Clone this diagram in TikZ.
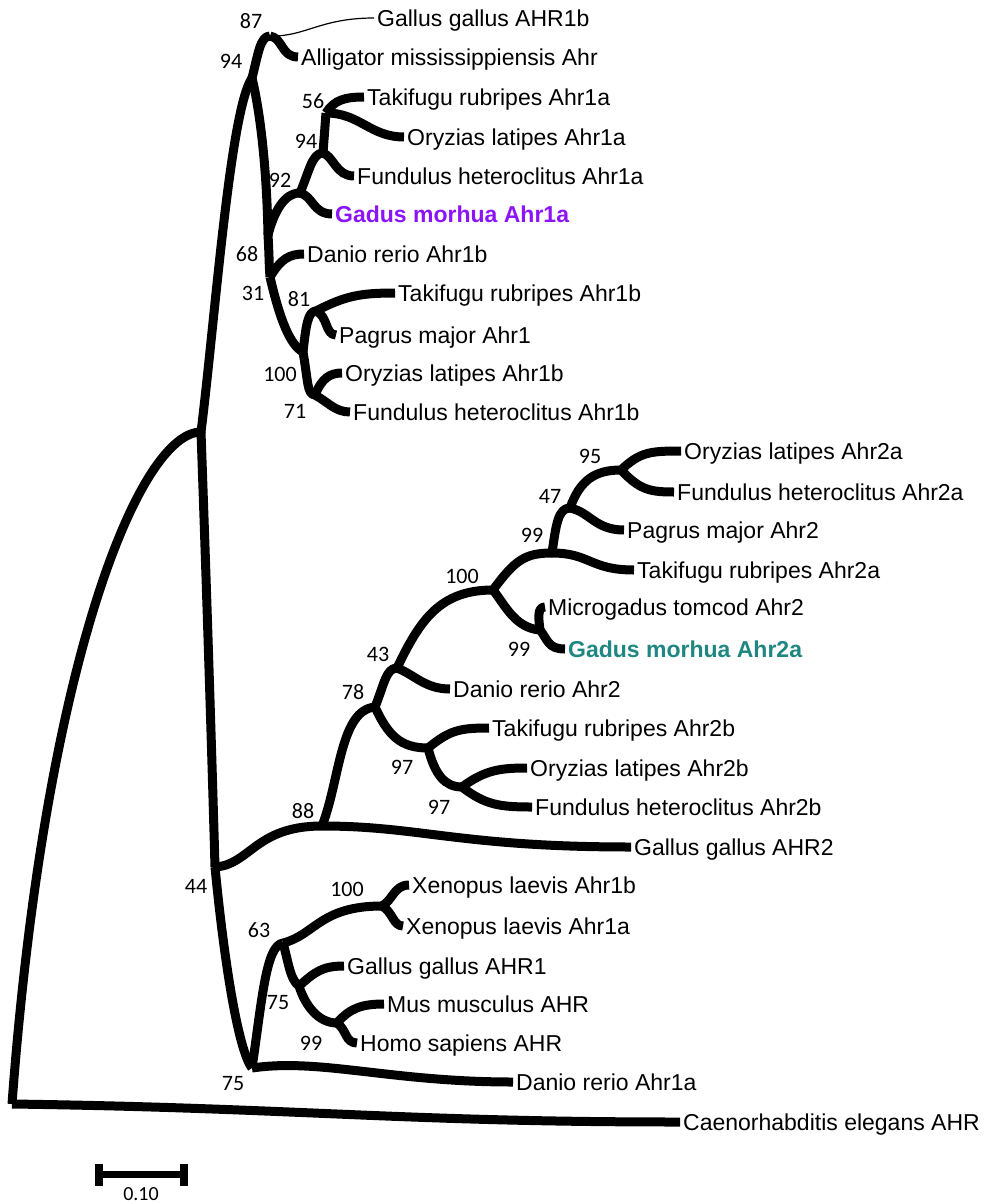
\documentclass[tikz,border=0pt]{standalone}
\usepackage{fontspec}
\newfontfamily\labfont{Liberation Sans}
\newfontfamily\numfont{Carlito}
\definecolor{gmpurple}{RGB}{140,20,250}
\definecolor{gmteal}{RGB}{30,135,130}
\tikzset{
  branch/.style={line width=9pt, line cap=butt, line join=round},
  thinbranch/.style={line width=1.2pt},
  leaf/.style={anchor=west, inner xsep=3pt, inner ysep=0pt, text height=16.5pt, text depth=0pt, font=\labfont\fontsize{23}{26}\selectfont},
  boot/.style={inner sep=0pt, text height=14pt, text depth=0pt, font=\numfont\fontsize{22}{25}\selectfont},
}
\begin{document}
\begin{tikzpicture}[x=1pt,y=-1pt]
\useasboundingbox (0,0) rectangle (984,1204);
% internal nodes
\coordinate (root) at (12,1104);
\coordinate (nA) at (201,432);
\coordinate (n94a) at (252,78);
\coordinate (n87) at (270,36);
\coordinate (n68) at (268,235);
\coordinate (n31) at (270,277);
\coordinate (n92) at (300,193);
\coordinate (n94b) at (323,153);
\coordinate (n56) at (326,113);
\coordinate (n100a) at (303,352);
\coordinate (n81) at (316,311);
\coordinate (n71) at (315,395);
\coordinate (n44) at (215,867);
\coordinate (n88) at (322,826);
\coordinate (n78) at (375,707);
\coordinate (n43) at (397,668);
\coordinate (n100b) at (493,590);
\coordinate (n99a) at (552,553);
\coordinate (n47) at (570,508);
\coordinate (n95) at (621,470);
\coordinate (n99b) at (540,630);
\coordinate (n97a) at (428,748);
\coordinate (n97b) at (462,787);
\coordinate (n75a) at (252,1068);
\coordinate (n63) at (283,943);
\coordinate (n100c) at (382,906);
\coordinate (n75b) at (299,986);
\coordinate (n99c) at (337,1023);
% leaves
\node[leaf] (gg1b) at (374,18) {Gallus gallus AHR1b};
\node[leaf] (alli) at (298,57) {Alligator mississippiensis Ahr};
\node[leaf] (tr1a) at (364,97) {Takifugu rubripes Ahr1a};
\node[leaf] (ol1a) at (404,137) {Oryzias latipes Ahr1a};
\node[leaf] (fh1a) at (354,176) {Fundulus heteroclitus Ahr1a};
\node[leaf, text=gmpurple, font=\labfont\bfseries\fontsize{23}{26}\selectfont] (gm1a) at (332,214) {Gadus morhua Ahr1a};
\node[leaf] (dr1b) at (304,254) {Danio rerio Ahr1b};
\node[leaf] (tr1b) at (395,293) {Takifugu rubripes Ahr1b};
\node[leaf] (pm1) at (336,335) {Pagrus major Ahr1};
\node[leaf] (ol1b) at (342,373) {Oryzias latipes Ahr1b};
\node[leaf] (fh1b) at (350,412) {Fundulus heteroclitus Ahr1b};
\node[leaf] (ol2a) at (681,451) {Oryzias latipes Ahr2a};
\node[leaf] (fh2a) at (674,492) {Fundulus heteroclitus Ahr2a};
\node[leaf] (pm2) at (624,530) {Pagrus major Ahr2};
\node[leaf] (tr2a) at (634,570) {Takifugu rubripes Ahr2a};
\node[leaf] (mt2) at (545,607) {Microgadus tomcod Ahr2};
\node[leaf, text=gmteal, font=\labfont\bfseries\fontsize{23}{26}\selectfont] (gm2a) at (565,649) {Gadus morhua Ahr2a};
\node[leaf] (dr2) at (450,689) {Danio rerio Ahr2};
\node[leaf] (tr2b) at (489,728) {Takifugu rubripes Ahr2b};
\node[leaf] (ol2b) at (527,768) {Oryzias latipes Ahr2b};
\node[leaf] (fh2b) at (532,807) {Fundulus heteroclitus Ahr2b};
\node[leaf] (gg2) at (631,847) {Gallus gallus AHR2};
\node[leaf] (xl1b) at (409,885) {Xenopus laevis Ahr1b};
\node[leaf] (xl1a) at (403,926) {Xenopus laevis Ahr1a};
\node[leaf] (gg1) at (344,966) {Gallus gallus AHR1};
\node[leaf] (mm) at (384,1004) {Mus musculus AHR};
\node[leaf] (hs) at (357,1043) {Homo sapiens AHR};
\node[leaf] (dr1a) at (513,1082) {Danio rerio Ahr1a};
\node[leaf] (ce) at (680,1122) {Caenorhabditis elegans AHR};
% bootstrap values
\node[boot] (b87) at (251,22) {87};
\node[boot] (b94a) at (231,62) {94};
\node[boot] (b56) at (313,102) {56};
\node[boot] (b94b) at (306,142) {94};
\node[boot] (b92) at (280,180) {92};
\node[boot] (b68) at (247,254) {68};
\node[boot] (b31) at (253,293) {31};
\node[boot] (b81) at (299,299) {81};
\node[boot] (b100a) at (280,374) {100};
\node[boot] (b71) at (295,411) {71};
\node[boot] (b95) at (590,456) {95};
\node[boot] (b47) at (550,496) {47};
\node[boot] (b99a) at (532,535) {99};
\node[boot] (b100b) at (462,576) {100};
\node[boot] (b99b) at (519,649) {99};
\node[boot] (b43) at (378,654) {43};
\node[boot] (b78) at (353,692) {78};
\node[boot] (b97a) at (402,767) {97};
\node[boot] (b97b) at (439,807) {97};
\node[boot] (b88) at (303,811) {88};
\node[boot] (b44) at (196,886) {44};
\node[boot] (b100c) at (347,889) {100};
\node[boot] (b63) at (259,930) {63};
\node[boot] (b75b) at (278,1002) {75};
\node[boot] (b99c) at (311,1043) {99};
\node[boot] (b75a) at (233,1083) {75};
% branches
\draw[branch] (root) .. controls (45,660) and (140,432) .. (nA);
\draw[branch] (root) .. controls (300,1108) and (400,1122) .. (ce.west);
\draw[branch] (nA) .. controls (215,320) and (230,110) .. (n94a);
\draw[branch] (nA) .. controls (207,600) and (212,760) .. (n44);
\draw[branch] (n94a) .. controls (258,55) and (260,36) .. (n87);
\draw[branch] (n87) .. controls (283,38) and (281,57) .. (alli.west);
\draw[thinbranch] (n87) .. controls (305,37) and (320,18) .. (gg1b.west);
\draw[branch] (n94a) .. controls (262,120) and (267,180) .. (n68);
\draw[branch] (n68) .. controls (269,250) and (269,265) .. (n31);
\draw[branch] (n68) .. controls (274,212) and (284,193) .. (n92);
\draw[branch] (n92) .. controls (313,196) and (313,214) .. (gm1a.west);
\draw[branch] (n92) .. controls (309,172) and (312,153) .. (n94b);
\draw[branch] (n94b) .. controls (334,157) and (336,176) .. (fh1a.west);
\draw[branch] (n94b) -- (n56);
\draw[branch] (n56) .. controls (334,100) and (345,97) .. (tr1a.west);
\draw[branch] (n56) .. controls (360,113) and (370,137) .. (ol1a.west);
\draw[branch] (n31) .. controls (281,259) and (289,254) .. (dr1b.west);
\draw[branch] (n31) .. controls (280,320) and (290,345) .. (n100a);
\draw[branch] (n100a) .. controls (306,325) and (308,311) .. (n81);
\draw[branch] (n81) .. controls (345,296) and (360,293) .. (tr1b.west);
\draw[branch] (n81) .. controls (328,316) and (325,335) .. (pm1.west);
\draw[branch] (n100a) .. controls (308,380) and (307,395) .. (n71);
\draw[branch] (n71) .. controls (322,378) and (330,373) .. (ol1b.west);
\draw[branch] (n71) .. controls (328,402) and (335,412) .. (fh1b.west);
\draw[branch] (n44) .. controls (250,865) and (255,826) .. (n88);
\draw[branch] (n88) .. controls (420,826) and (460,847) .. (gg2.west);
\draw[branch] (n88) .. controls (340,780) and (340,710) .. (n78);
\draw[branch] (n78) .. controls (384,685) and (386,668) .. (n43);
\draw[branch] (n43) .. controls (415,675) and (425,689) .. (dr2.west);
\draw[branch] (n43) .. controls (420,620) and (440,590) .. (n100b);
\draw[branch] (n100b) .. controls (505,605) and (515,628) .. (n99b);
\draw[branch] (n99b) .. controls (538,615) and (538,607) .. (mt2.west);
\draw[branch] (n99b) .. controls (548,640) and (548,649) .. (gm2a.west);
\draw[branch] (n100b) .. controls (515,560) and (525,553) .. (n99a);
\draw[branch] (n99a) .. controls (590,553) and (590,570) .. (tr2a.west);
\draw[branch] (n99a) .. controls (556,525) and (558,508) .. (n47);
\draw[branch] (n47) .. controls (590,512) and (595,530) .. (pm2.west);
\draw[branch] (n47) .. controls (580,480) and (595,470) .. (n95);
\draw[branch] (n95) .. controls (640,452) and (650,451) .. (ol2a.west);
\draw[branch] (n95) .. controls (640,490) and (650,492) .. (fh2a.west);
\draw[branch] (n78) .. controls (388,735) and (400,748) .. (n97a);
\draw[branch] (n97a) .. controls (450,730) and (460,728) .. (tr2b.west);
\draw[branch] (n97a) .. controls (435,775) and (445,787) .. (n97b);
\draw[branch] (n97b) .. controls (485,770) and (500,768) .. (ol2b.west);
\draw[branch] (n97b) .. controls (485,805) and (500,807) .. (fh2b.west);
\draw[branch] (n44) .. controls (224,960) and (238,1050) .. (n75a);
\draw[branch] (n75a) .. controls (320,1058) and (390,1082) .. (dr1a.west);
\draw[branch] (n75a) .. controls (262,1000) and (266,945) .. (n63);
\draw[branch] (n63) .. controls (315,935) and (320,906) .. (n100c);
\draw[branch] (n100c) .. controls (393,900) and (394,885) .. (xl1b.west);
\draw[branch] (n100c) .. controls (393,912) and (393,926) .. (xl1a.west);
\draw[branch] (n63) .. controls (288,960) and (290,980) .. (n75b);
\draw[branch] (n75b) .. controls (315,972) and (322,966) .. (gg1.west);
\draw[branch] (n75b) .. controls (305,1005) and (318,1023) .. (n99c);
\draw[branch] (n99c) .. controls (350,1008) and (362,1004) .. (mm.west);
\draw[branch] (n99c) .. controls (347,1030) and (345,1043) .. (hs.west);
% scale bar
\fill (95,1164) rectangle (103,1186);
\fill (180,1164) rectangle (188,1186);
\fill (95,1171) rectangle (188,1178);
\node[boot, font=\numfont\fontsize{20}{24}\selectfont, text height=13pt] (scale) at (141,1194) {0.10};
\end{tikzpicture}
\end{document}
